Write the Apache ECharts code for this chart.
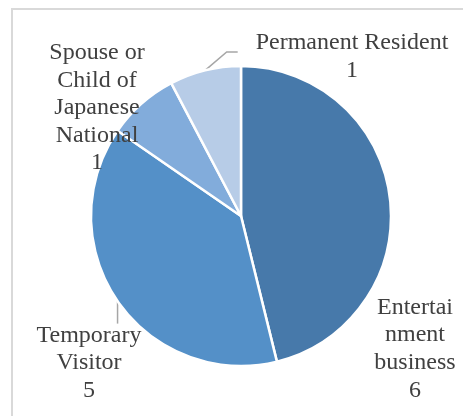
<!DOCTYPE html>
<html>
<head>
<meta charset="utf-8">
<script src="https://cdn.jsdelivr.net/npm/echarts@6/dist/echarts.min.js"></script>
<style>
  html, body { margin: 0; padding: 0; background: #ffffff; overflow: hidden; width: 463px; height: 416px; }
  #chart { position: absolute; left: 0; top: 0; width: 463px; height: 416px; }
</style>
</head>
<body>
<div id="chart"></div>
<script>
// Data
const categories = ['Entertainment business', 'Temporary Visitor', 'Spouse or Child of Japanese National', 'Permanent Resident'];
const values = [6, 5, 1, 1];
// Wrapped label text as shown in the chart
const wrappedNames = ['Entertai\nnment\nbusiness', 'Temporary\nVisitor', 'Spouse or\nChild of\nJapanese\nNational', 'Permanent Resident'];
const colors = ['#4779aa', '#5490c8', '#82acdb', '#b7cce7'];
const showLeader = [false, true, false, true];

// Label placement (layout only): block centre
const labelPos = [[415, 349], [89, 363], [97, 108], [352, 57]];

const chart = echarts.init(document.getElementById('chart'), null, { renderer: 'canvas' });
chart.setOption({
  backgroundColor: '#ffffff',
  animation: false,
  graphic: [{
    type: 'polyline',
    silent: true,
    shape: { points: [[12, 430], [12, 9], [480, 9]] },
    style: { stroke: '#d9d9d9', lineWidth: 2, fill: null }
  }],
  series: [{
    type: 'pie',
    center: [241, 216],
    radius: [0, 150],
    startAngle: 90,
    clockwise: true,
    data: categories.map((c, i) => ({
      name: c,
      value: values[i],
      itemStyle: { color: colors[i] },
      labelLine: { show: showLeader[i] }
    })),
    itemStyle: { borderColor: '#ffffff', borderWidth: 2.5 },
    label: {
      show: true,
      position: 'outside',
      overflow: 'none',
      formatter: p => wrappedNames[p.dataIndex] + '\n' + p.value,
      fontFamily: 'Liberation Serif',
      fontSize: 24,
      lineHeight: 27.6,
      color: '#404040',
      align: 'center'
    },
    labelLine: {
      show: true,
      length: 10,
      length2: 10,
      lineStyle: { color: '#a6a6a6', width: 1.5 }
    },
    labelLayout: function (params) {
      const i = params.dataIndex;
      const p = labelPos[i];
      const h = params.labelRect.height;
      const w = params.labelRect.width;
      const res = { x: p[0], y: p[1], align: 'center', verticalAlign: 'middle' };
      const pts = params.labelLinePoints;
      if (pts && showLeader[i]) {
        const start = pts[0];
        const top = p[1] - h / 2;
        const left = p[0] - w / 2;
        if (i === 1) {
          res.labelLinePoints = [start, [start[0], (start[1] + top) / 2], [start[0], top + 2]];
        } else if (i === 3) {
          const endY = p[1] - 5;
          const endX = left - 18;
          res.labelLinePoints = [start, [endX - 11, endY], [endX, endY]];
        }
      }
      return res;
    }
  }]
});
</script>
</body>
</html>
